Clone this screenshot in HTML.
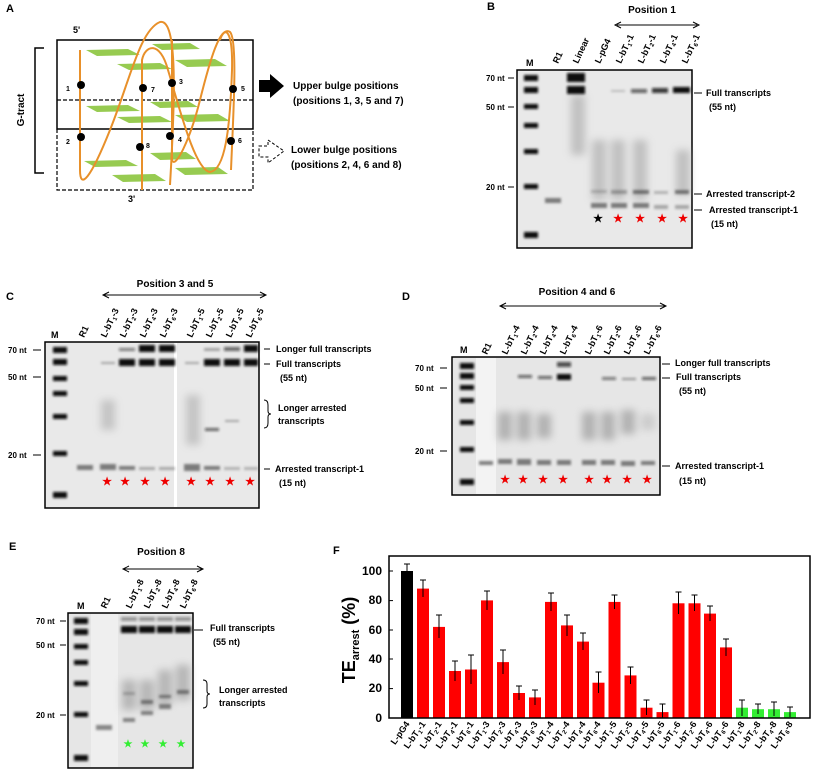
<!DOCTYPE html>
<html><head><meta charset="utf-8"><style>
body{margin:0;background:#fff}
svg{display:block;font-family:"Liberation Sans",Arial,sans-serif;font-weight:bold}
</style></head><body>
<svg width="814" height="772" viewBox="0 0 814 772" xmlns="http://www.w3.org/2000/svg">
<defs>
<filter id="b" x="-50%" y="-200%" width="200%" height="500%"><feGaussianBlur stdDeviation="1.4"/></filter>
<filter id="b2" x="-50%" y="-100%" width="200%" height="300%"><feGaussianBlur stdDeviation="4"/></filter>
</defs>

<!-- Panel A -->
<text x="6" y="12" font-size="11">A</text>
<text x="73" y="33" font-size="9">5'</text>
<text x="128" y="202" font-size="9">3'</text>
<rect x="57" y="40" width="196" height="89" fill="none" stroke="#000" stroke-width="1.5"/>
<line x1="57" y1="100" x2="253" y2="100" stroke="#000" stroke-dasharray="4,2" stroke-width="1.2"/>
<path d="M57 129 V190 H253 V129" fill="none" stroke="#000" stroke-dasharray="4,2" stroke-width="1.2"/>
<path d="M44 48 H35 V173 H44" fill="none" stroke="#000" stroke-width="1.5"/>
<text transform="translate(24,110) rotate(-90)" font-size="10" text-anchor="middle">G-tract</text>
<g fill="#8cc63f" opacity="0.9">
<polygon points="86,50 128,49 140,55 97,56"/><polygon points="117,64 160,63 172,69 129,70"/>
<polygon points="152,44 190,43 200,49 162,50"/><polygon points="175,60 215,59 227,66 187,67"/>
<polygon points="86,106 128,105 140,111 97,112"/><polygon points="117,117 160,116 172,122 129,123"/>
<polygon points="150,102 188,101 198,107 160,108"/><polygon points="175,115 218,114 230,121 187,122"/>
<polygon points="84,161 126,160 138,166 95,167"/><polygon points="112,175 155,174 166,181 123,182"/>
<polygon points="150,153 186,152 196,159 160,160"/><polygon points="175,168 218,167 228,174 185,175"/>
</g>
<g fill="none" stroke="#e8902a" stroke-width="2">
<path d="M80 50 V170 C80 190 90 180 110 130 C130 80 140 30 160 22 C178 18 175 100 170 185"/>
<path d="M142 190 V60 C145 45 160 40 168 70 C180 110 195 170 210 172 C225 170 230 130 232 70 C233 30 225 25 220 40"/>
<path d="M172 40 V160 C175 170 190 140 200 100 C210 60 220 25 230 32 C238 40 233 120 231 170"/>
</g>
<g fill="#000">
<circle cx="81" cy="85" r="4"/><circle cx="143" cy="88" r="4"/><circle cx="172" cy="83" r="4"/><circle cx="233" cy="89" r="4"/>
<circle cx="81" cy="137" r="4"/><circle cx="140" cy="147" r="4"/><circle cx="170" cy="136" r="4"/><circle cx="231" cy="141" r="4"/>
</g>
<g font-size="7">
<text x="66" y="91">1</text><text x="151" y="92">7</text><text x="179" y="84">3</text><text x="241" y="91">5</text>
<text x="66" y="144">2</text><text x="146" y="148">8</text><text x="178" y="142">4</text><text x="238" y="143">6</text>
</g>
<polygon points="259,80 270,80 270,74 284,86 270,98 270,92 259,92" fill="#000"/>
<polygon points="259,146 268,146 268,140 284,151 268,163 268,157 259,157" fill="none" stroke="#000" stroke-dasharray="3,2"/>
<text x="293" y="89" font-size="10">Upper bulge positions</text>
<text x="293" y="104" font-size="10">(positions 1, 3, 5 and 7)</text>
<text x="291" y="153" font-size="10">Lower bulge positions</text>
<text x="291" y="168" font-size="10">(positions 2, 4, 6 and 8)</text>

<!-- Panel B -->
<text x="487" y="10" font-size="11">B</text>
<text x="652" y="13" font-size="10" text-anchor="middle">Position 1</text>
<line x1="617" y1="25" x2="697" y2="25" stroke="#000"/>
<path d="M621 22 L615 25 L621 28 M693 22 L699 25 L693 28" fill="none" stroke="#000"/>
<g font-size="9">
<text x="526" y="66">M</text>
<text transform="translate(558,64) rotate(-65)">R1</text>
<text transform="translate(578,64) rotate(-65)">Linear</text>
<text transform="translate(600,64) rotate(-65)">L-pG4</text>
<text transform="translate(621,64) rotate(-65)">L-bT<tspan font-size="6" dy="2">1</tspan><tspan dy="-2">-1</tspan></text>
<text transform="translate(643,64) rotate(-65)">L-bT<tspan font-size="6" dy="2">2</tspan><tspan dy="-2">-1</tspan></text>
<text transform="translate(665,64) rotate(-65)">L-bT<tspan font-size="6" dy="2">4</tspan><tspan dy="-2">-1</tspan></text>
<text transform="translate(687,64) rotate(-65)">L-bT<tspan font-size="6" dy="2">6</tspan><tspan dy="-2">-1</tspan></text>
</g>
<rect x="517" y="70" width="175" height="178" fill="#e9e9e9" stroke="#000" stroke-width="1.5"/>
<g filter="url(#b2)" fill="#999" opacity="0.5">
<rect x="592" y="140" width="14" height="60"/><rect x="611" y="140" width="14" height="60"/><rect x="633" y="140" width="14" height="60"/><rect x="676" y="150" width="14" height="45"/>
<rect x="571" y="95" width="14" height="60"/>
</g>
<g filter="url(#b)" fill="#111">
<rect x="524" y="75" width="14" height="6"/><rect x="524" y="87" width="14" height="6"/><rect x="524" y="104" width="14" height="5"/><rect x="524" y="123" width="14" height="5"/><rect x="524" y="149" width="14" height="5"/><rect x="524" y="184" width="14" height="5"/><rect x="524" y="232" width="14" height="6"/>
<rect x="567" y="73" width="18" height="9"/><rect x="567" y="86" width="18" height="8"/>
<rect x="631" y="89" width="16" height="4" opacity="0.6"/><rect x="652" y="88" width="16" height="5" opacity="0.8"/><rect x="673" y="87" width="17" height="6"/>
<rect x="611" y="90" width="14" height="2" opacity="0.2"/>
</g>
<g filter="url(#b)" fill="#333" opacity="0.6">
<rect x="545" y="198" width="16" height="5"/><rect x="591" y="203" width="16" height="5"/><rect x="611" y="203" width="16" height="5"/><rect x="633" y="203" width="16" height="5"/><rect x="654" y="205" width="14" height="4" opacity="0.6"/><rect x="675" y="205" width="14" height="4" opacity="0.6"/>
<rect x="591" y="190" width="16" height="3" opacity="0.4"/><rect x="611" y="190" width="16" height="4" opacity="0.6"/><rect x="633" y="190" width="16" height="4"/><rect x="654" y="191" width="14" height="3" opacity="0.5"/><rect x="675" y="190" width="14" height="4"/>
</g>
<g font-size="11" text-anchor="middle"><text x="598" y="222">★</text><text x="618" y="222" fill="#e00">★</text><text x="640" y="222" fill="#e00">★</text><text x="662" y="222" fill="#e00">★</text><text x="683" y="222" fill="#e00">★</text></g>
<g font-size="8"><text x="486" y="81">70 nt</text><text x="486" y="110">50 nt</text><text x="486" y="190">20 nt</text></g>
<g stroke="#000"><line x1="508" y1="78" x2="514" y2="78"/><line x1="508" y1="107" x2="514" y2="107"/><line x1="508" y1="187" x2="514" y2="187"/>
<line x1="694" y1="93" x2="702" y2="93"/><line x1="694" y1="194" x2="702" y2="194"/><line x1="694" y1="210" x2="702" y2="210"/></g>
<g font-size="9"><text x="706" y="96">Full transcripts</text><text x="709" y="110">(55 nt)</text><text x="706" y="197">Arrested transcript-2</text><text x="709" y="213">Arrested transcript-1</text><text x="711" y="227">(15 nt)</text></g>

<!-- Panel C -->
<text x="6" y="300" font-size="11">C</text>
<text x="175" y="287" font-size="10" text-anchor="middle">Position 3 and 5</text>
<line x1="104" y1="295" x2="265" y2="295" stroke="#000"/>
<path d="M109 292 L103 295 L109 298 M260 292 L266 295 L260 298" fill="none" stroke="#000"/>
<g font-size="9">
<text x="51" y="338">M</text>
<text transform="translate(84,338) rotate(-65)">R1</text>
<text transform="translate(106,338) rotate(-65)">L-bT<tspan font-size="6" dy="2">1</tspan><tspan dy="-2">-3</tspan></text>
<text transform="translate(125,338) rotate(-65)">L-bT<tspan font-size="6" dy="2">2</tspan><tspan dy="-2">-3</tspan></text>
<text transform="translate(145,338) rotate(-65)">L-bT<tspan font-size="6" dy="2">4</tspan><tspan dy="-2">-3</tspan></text>
<text transform="translate(165,338) rotate(-65)">L-bT<tspan font-size="6" dy="2">6</tspan><tspan dy="-2">-3</tspan></text>
<text transform="translate(192,338) rotate(-65)">L-bT<tspan font-size="6" dy="2">1</tspan><tspan dy="-2">-5</tspan></text>
<text transform="translate(211,338) rotate(-65)">L-bT<tspan font-size="6" dy="2">2</tspan><tspan dy="-2">-5</tspan></text>
<text transform="translate(231,338) rotate(-65)">L-bT<tspan font-size="6" dy="2">4</tspan><tspan dy="-2">-5</tspan></text>
<text transform="translate(251,338) rotate(-65)">L-bT<tspan font-size="6" dy="2">6</tspan><tspan dy="-2">-5</tspan></text>
</g>
<rect x="45" y="342" width="214" height="166" fill="#e9e9e9" stroke="#000" stroke-width="1.5"/>
<rect x="174" y="343" width="3" height="164" fill="#fff"/>
<g filter="url(#b2)" fill="#999" opacity="0.45">
<rect x="101" y="400" width="14" height="30"/><rect x="186" y="395" width="14" height="50"/>
</g>
<g filter="url(#b)" fill="#111">
<rect x="53" y="347" width="14" height="6"/><rect x="53" y="359" width="14" height="6"/><rect x="53" y="376" width="14" height="5"/><rect x="53" y="391" width="14" height="5"/><rect x="53" y="414" width="14" height="5"/><rect x="53" y="451" width="14" height="5"/><rect x="53" y="492" width="14" height="6"/>
<rect x="119" y="359" width="16" height="7"/><rect x="139" y="359" width="16" height="7"/><rect x="159" y="359" width="16" height="7"/>
<rect x="139" y="345" width="16" height="7"/><rect x="159" y="345" width="16" height="7"/><rect x="119" y="348" width="16" height="3" opacity="0.5"/>
<rect x="204" y="359" width="16" height="7"/><rect x="224" y="359" width="16" height="7"/><rect x="244" y="359" width="14" height="7"/>
<rect x="224" y="347" width="16" height="4" opacity="0.6"/><rect x="244" y="345" width="14" height="7"/><rect x="204" y="348" width="16" height="3" opacity="0.3"/>
<rect x="101" y="362" width="14" height="2" opacity="0.3"/><rect x="185" y="362" width="14" height="2" opacity="0.3"/>
<rect x="205" y="428" width="14" height="3" opacity="0.6"/><rect x="225" y="420" width="14" height="2" opacity="0.3"/>
</g>
<g filter="url(#b)" fill="#333" opacity="0.6">
<rect x="77" y="465" width="16" height="5"/><rect x="100" y="464" width="16" height="6"/><rect x="119" y="466" width="16" height="4"/><rect x="139" y="467" width="16" height="3" opacity="0.6"/><rect x="159" y="467" width="16" height="3" opacity="0.6"/>
<rect x="184" y="464" width="16" height="7"/><rect x="204" y="466" width="16" height="4"/><rect x="224" y="467" width="16" height="3" opacity="0.5"/><rect x="244" y="467" width="14" height="3" opacity="0.5"/>
</g>
<g font-size="11" text-anchor="middle" fill="#e00"><text x="107" y="485">★</text><text x="125" y="485">★</text><text x="145" y="485">★</text><text x="165" y="485">★</text><text x="191" y="485">★</text><text x="210" y="485">★</text><text x="230" y="485">★</text><text x="250" y="485">★</text></g>
<g font-size="8"><text x="8" y="353">70 nt</text><text x="8" y="380">50 nt</text><text x="8" y="458">20 nt</text></g>
<g stroke="#000"><line x1="33" y1="350" x2="41" y2="350"/><line x1="33" y1="377" x2="41" y2="377"/><line x1="33" y1="455" x2="41" y2="455"/>
<line x1="264" y1="349" x2="270" y2="349"/><line x1="264" y1="364" x2="270" y2="364"/><line x1="264" y1="469" x2="270" y2="469"/></g>
<path d="M264 400 Q268 400 268 405 V411 Q268 414 271 414 Q268 414 268 417 V423 Q268 428 264 428" fill="none" stroke="#000"/>
<g font-size="9"><text x="276" y="352">Longer full transcripts</text><text x="276" y="367">Full transcripts</text><text x="280" y="381">(55 nt)</text><text x="278" y="411">Longer arrested</text><text x="278" y="424">transcripts</text><text x="275" y="472">Arrested transcript-1</text><text x="279" y="486">(15 nt)</text></g>

<!-- Panel D -->
<text x="402" y="300" font-size="11">D</text>
<text x="577" y="295" font-size="10" text-anchor="middle">Position 4 and 6</text>
<line x1="501" y1="306" x2="665" y2="306" stroke="#000"/>
<path d="M506 303 L500 306 L506 309 M660 303 L666 306 L660 309" fill="none" stroke="#000"/>
<g font-size="9">
<text x="460" y="353">M</text>
<text transform="translate(487,355) rotate(-65)">R1</text>
<text transform="translate(507,355) rotate(-65)">L-bT<tspan font-size="6" dy="2">1</tspan><tspan dy="-2">-4</tspan></text>
<text transform="translate(526,355) rotate(-65)">L-bT<tspan font-size="6" dy="2">2</tspan><tspan dy="-2">-4</tspan></text>
<text transform="translate(545,355) rotate(-65)">L-bT<tspan font-size="6" dy="2">4</tspan><tspan dy="-2">-4</tspan></text>
<text transform="translate(565,355) rotate(-65)">L-bT<tspan font-size="6" dy="2">6</tspan><tspan dy="-2">-4</tspan></text>
<text transform="translate(590,355) rotate(-65)">L-bT<tspan font-size="6" dy="2">1</tspan><tspan dy="-2">-6</tspan></text>
<text transform="translate(609,355) rotate(-65)">L-bT<tspan font-size="6" dy="2">2</tspan><tspan dy="-2">-6</tspan></text>
<text transform="translate(629,355) rotate(-65)">L-bT<tspan font-size="6" dy="2">4</tspan><tspan dy="-2">-6</tspan></text>
<text transform="translate(649,355) rotate(-65)">L-bT<tspan font-size="6" dy="2">6</tspan><tspan dy="-2">-6</tspan></text>
</g>
<rect x="452" y="357" width="208" height="138" fill="#e6e6e6" stroke="#000" stroke-width="1.5"/>
<rect x="476" y="358" width="20" height="136" fill="#f3f3f3"/>
<g filter="url(#b2)" fill="#888" opacity="0.55">
<rect x="498" y="412" width="14" height="28"/><rect x="517" y="412" width="14" height="28"/><rect x="537" y="414" width="14" height="24"/><rect x="582" y="412" width="14" height="28"/><rect x="601" y="412" width="14" height="28"/><rect x="621" y="410" width="14" height="24"/><rect x="641" y="414" width="14" height="16" opacity="0.5"/>
</g>
<g filter="url(#b)" fill="#111">
<rect x="460" y="363" width="14" height="6"/><rect x="460" y="373" width="14" height="6"/><rect x="460" y="385" width="14" height="5"/><rect x="460" y="398" width="14" height="5"/><rect x="460" y="420" width="14" height="5"/><rect x="460" y="447" width="14" height="5"/><rect x="460" y="479" width="14" height="6"/>
<rect x="557" y="374" width="14" height="6"/><rect x="557" y="362" width="14" height="5" opacity="0.7"/>
<rect x="518" y="375" width="14" height="3" opacity="0.6"/><rect x="538" y="376" width="14" height="3" opacity="0.6"/><rect x="602" y="377" width="14" height="3" opacity="0.5"/><rect x="622" y="378" width="14" height="2" opacity="0.4"/><rect x="642" y="377" width="14" height="3" opacity="0.6"/>
</g>
<g filter="url(#b)" fill="#333" opacity="0.6">
<rect x="479" y="461" width="14" height="4"/><rect x="498" y="459" width="14" height="5"/><rect x="517" y="459" width="14" height="6"/><rect x="537" y="460" width="14" height="5"/><rect x="557" y="460" width="14" height="5"/><rect x="582" y="460" width="14" height="5"/><rect x="601" y="460" width="14" height="5"/><rect x="621" y="461" width="14" height="5"/><rect x="641" y="461" width="14" height="4"/>
</g>
<g font-size="11" text-anchor="middle" fill="#e00"><text x="505" y="483">★</text><text x="523" y="483">★</text><text x="543" y="483">★</text><text x="563" y="483">★</text><text x="589" y="483">★</text><text x="607" y="483">★</text><text x="627" y="483">★</text><text x="647" y="483">★</text></g>
<g font-size="8"><text x="415" y="371">70 nt</text><text x="415" y="391">50 nt</text><text x="415" y="454">20 nt</text></g>
<g stroke="#000"><line x1="440" y1="368" x2="447" y2="368"/><line x1="440" y1="388" x2="447" y2="388"/><line x1="440" y1="451" x2="447" y2="451"/>
<line x1="662" y1="364" x2="670" y2="364"/><line x1="662" y1="378" x2="670" y2="378"/><line x1="662" y1="466" x2="670" y2="466"/></g>
<g font-size="9"><text x="675" y="366">Longer full transcripts</text><text x="676" y="380">Full transcripts</text><text x="679" y="394">(55 nt)</text><text x="675" y="469">Arrested transcript-1</text><text x="679" y="484">(15 nt)</text></g>

<!-- Panel E -->
<text x="9" y="550" font-size="11">E</text>
<text x="161" y="555" font-size="10" text-anchor="middle">Position 8</text>
<line x1="124" y1="569" x2="202" y2="569" stroke="#000"/>
<path d="M129 566 L123 569 L129 572 M197 566 L203 569 L197 572" fill="none" stroke="#000"/>
<g font-size="9">
<text x="77" y="609">M</text>
<text transform="translate(106,609) rotate(-65)">R1</text>
<text transform="translate(131,609) rotate(-65)">L-bT<tspan font-size="6" dy="2">1</tspan><tspan dy="-2">-8</tspan></text>
<text transform="translate(149,609) rotate(-65)">L-bT<tspan font-size="6" dy="2">2</tspan><tspan dy="-2">-8</tspan></text>
<text transform="translate(167,609) rotate(-65)">L-bT<tspan font-size="6" dy="2">4</tspan><tspan dy="-2">-8</tspan></text>
<text transform="translate(185,609) rotate(-65)">L-bT<tspan font-size="6" dy="2">6</tspan><tspan dy="-2">-8</tspan></text>
</g>
<rect x="68" y="613" width="125" height="155" fill="#e6e6e6" stroke="#000" stroke-width="1.5"/>
<rect x="91" y="614" width="27" height="153" fill="#efefef"/>
<g filter="url(#b2)" fill="#888" opacity="0.5">
<rect x="122" y="680" width="14" height="30"/><rect x="140" y="680" width="14" height="30"/><rect x="158" y="670" width="14" height="35"/><rect x="176" y="665" width="14" height="35"/>
</g>
<g filter="url(#b)" fill="#111">
<rect x="74" y="618" width="14" height="6"/><rect x="74" y="629" width="14" height="6"/><rect x="74" y="644" width="14" height="5"/><rect x="74" y="660" width="14" height="5"/><rect x="74" y="681" width="14" height="5"/><rect x="74" y="712" width="14" height="5"/><rect x="74" y="755" width="14" height="6"/>
<rect x="121" y="626" width="16" height="7"/><rect x="139" y="626" width="16" height="7"/><rect x="157" y="626" width="16" height="7"/><rect x="175" y="626" width="16" height="7"/>
<rect x="121" y="617" width="16" height="4" opacity="0.4"/><rect x="139" y="617" width="16" height="4" opacity="0.4"/><rect x="157" y="617" width="16" height="4" opacity="0.4"/><rect x="175" y="617" width="16" height="4" opacity="0.4"/>
</g>
<g filter="url(#b)" fill="#333" opacity="0.55">
<rect x="96" y="725" width="16" height="5"/><rect x="123" y="718" width="12" height="4"/><rect x="141" y="711" width="12" height="4"/><rect x="141" y="700" width="12" height="4"/><rect x="159" y="704" width="12" height="5"/><rect x="159" y="695" width="12" height="3"/><rect x="177" y="690" width="12" height="4"/><rect x="123" y="692" width="12" height="3" opacity="0.5"/>
</g>
<g font-size="10" text-anchor="middle" fill="#3e3"><text x="128" y="747">★</text><text x="145" y="747">★</text><text x="163" y="747">★</text><text x="181" y="747">★</text></g>
<g font-size="8"><text x="36" y="624">70 nt</text><text x="36" y="648">50 nt</text><text x="36" y="718">20 nt</text></g>
<g stroke="#000"><line x1="60" y1="621" x2="66" y2="621"/><line x1="60" y1="645" x2="66" y2="645"/><line x1="60" y1="715" x2="66" y2="715"/><line x1="194" y1="630" x2="203" y2="630"/></g>
<path d="M203 680 Q207 680 207 684 V691 Q207 694 210 694 Q207 694 207 697 V704 Q207 708 203 708" fill="none" stroke="#000"/>
<g font-size="9"><text x="210" y="631">Full transcripts</text><text x="213" y="645">(55 nt)</text><text x="219" y="693">Longer arrested</text><text x="219" y="706">transcripts</text></g>

<!-- Panel F -->
<text x="333" y="554" font-size="11">F</text>
<g font-size="12" text-anchor="end">
<text x="382" y="575">100</text><text x="382" y="604">80</text><text x="382" y="634">60</text><text x="382" y="663">40</text><text x="382" y="692">20</text><text x="382" y="722">0</text>
</g>
<text transform="translate(355,640) rotate(-90)" font-size="18" text-anchor="middle">TE<tspan font-size="11" dy="4">arrest</tspan><tspan dy="-4"> (%)</tspan></text>
<g stroke="#000" stroke-width="1">
<line x1="389" y1="571" x2="393" y2="571"/><line x1="389" y1="600.6" x2="393" y2="600.6"/><line x1="389" y1="630" x2="393" y2="630"/><line x1="389" y1="659" x2="393" y2="659"/><line x1="389" y1="688.6" x2="393" y2="688.6"/>
</g>
<g fill="#f00">
<rect x="401" y="571" width="12" height="147" fill="#000"/>
<rect x="417" y="588.6" width="12" height="129.4"/>
<rect x="433" y="626.9" width="12" height="91.1"/>
<rect x="449" y="671" width="12" height="47"/>
<rect x="465" y="669.5" width="12" height="48.5"/>
<rect x="481" y="600.4" width="12" height="117.6"/>
<rect x="497" y="662.1" width="12" height="55.9"/>
<rect x="513" y="693" width="12" height="25"/>
<rect x="529" y="697.4" width="12" height="20.6"/>
<rect x="545" y="601.9" width="12" height="116.1"/>
<rect x="561" y="625.4" width="12" height="92.6"/>
<rect x="577" y="641.6" width="12" height="76.4"/>
<rect x="592.5" y="682.7" width="12" height="35.3"/>
<rect x="608.5" y="601.9" width="12" height="116.1"/>
<rect x="624.5" y="675.4" width="12" height="42.6"/>
<rect x="640.5" y="707.7" width="12" height="10.3"/>
<rect x="656.5" y="712.1" width="12" height="5.9"/>
<rect x="672.5" y="603.3" width="12" height="114.7"/>
<rect x="688.5" y="603.3" width="12" height="114.7"/>
<rect x="704" y="613.6" width="12" height="104.4"/>
<rect x="720" y="647.4" width="12" height="70.6"/>
<rect x="736" y="707.7" width="12" height="10.3" fill="#3e3"/>
<rect x="752" y="709.2" width="12" height="8.8" fill="#3e3"/>
<rect x="768" y="709.2" width="12" height="8.8" fill="#3e3"/>
<rect x="784" y="712.1" width="12" height="5.9" fill="#3e3"/>
</g>
<g stroke="#000" stroke-width="1" fill="none">
<path d="M407 564V578M404 564h6"/><path d="M423 580V597M420 580h6"/><path d="M439 615V638M436 615h6"/><path d="M455 661V681M452 661h6"/><path d="M471 655V684M468 655h6"/>
<path d="M487 591V610M484 591h6"/><path d="M503 650V674M500 650h6"/><path d="M519 686V700M516 686h6"/><path d="M535 690V705M532 690h6"/>
<path d="M551 593V611M548 593h6"/><path d="M567 615V636M564 615h6"/><path d="M583 633V650M580 633h6"/><path d="M598.5 672V693M595.5 672h6"/>
<path d="M614.5 595V609M611.5 595h6"/><path d="M630.5 667V684M627.5 667h6"/><path d="M646.5 700V715M643.5 700h6"/><path d="M662.5 704V718M659.5 704h6"/>
<path d="M678.5 592V614M675.5 592h6"/><path d="M694.5 595V611M691.5 595h6"/><path d="M710 606V621M707 606h6"/><path d="M726 639V656M723 639h6"/>
<path d="M742 700V716M739 700h6"/><path d="M758 704V714M755 704h6"/><path d="M774 702V716M771 702h6"/><path d="M790 707V717M787 707h6"/>
</g>
<rect x="389" y="556" width="421" height="162" fill="none" stroke="#000" stroke-width="1.5"/>
<g font-size="9" text-anchor="end">
<text transform="translate(410,724) rotate(-55)">L-pG4</text>
<text transform="translate(426,724) rotate(-55)">L-bT<tspan font-size="6" dy="2">1</tspan><tspan dy="-2">-1</tspan></text>
<text transform="translate(442,724) rotate(-55)">L-bT<tspan font-size="6" dy="2">2</tspan><tspan dy="-2">-1</tspan></text>
<text transform="translate(458,724) rotate(-55)">L-bT<tspan font-size="6" dy="2">4</tspan><tspan dy="-2">-1</tspan></text>
<text transform="translate(474,724) rotate(-55)">L-bT<tspan font-size="6" dy="2">6</tspan><tspan dy="-2">-1</tspan></text>
<text transform="translate(490,724) rotate(-55)">L-bT<tspan font-size="6" dy="2">1</tspan><tspan dy="-2">-3</tspan></text>
<text transform="translate(506,724) rotate(-55)">L-bT<tspan font-size="6" dy="2">2</tspan><tspan dy="-2">-3</tspan></text>
<text transform="translate(522,724) rotate(-55)">L-bT<tspan font-size="6" dy="2">4</tspan><tspan dy="-2">-3</tspan></text>
<text transform="translate(538,724) rotate(-55)">L-bT<tspan font-size="6" dy="2">6</tspan><tspan dy="-2">-3</tspan></text>
<text transform="translate(554,724) rotate(-55)">L-bT<tspan font-size="6" dy="2">1</tspan><tspan dy="-2">-4</tspan></text>
<text transform="translate(570,724) rotate(-55)">L-bT<tspan font-size="6" dy="2">2</tspan><tspan dy="-2">-4</tspan></text>
<text transform="translate(586,724) rotate(-55)">L-bT<tspan font-size="6" dy="2">4</tspan><tspan dy="-2">-4</tspan></text>
<text transform="translate(601,724) rotate(-55)">L-bT<tspan font-size="6" dy="2">6</tspan><tspan dy="-2">-4</tspan></text>
<text transform="translate(617,724) rotate(-55)">L-bT<tspan font-size="6" dy="2">1</tspan><tspan dy="-2">-5</tspan></text>
<text transform="translate(633,724) rotate(-55)">L-bT<tspan font-size="6" dy="2">2</tspan><tspan dy="-2">-5</tspan></text>
<text transform="translate(649,724) rotate(-55)">L-bT<tspan font-size="6" dy="2">4</tspan><tspan dy="-2">-5</tspan></text>
<text transform="translate(665,724) rotate(-55)">L-bT<tspan font-size="6" dy="2">6</tspan><tspan dy="-2">-5</tspan></text>
<text transform="translate(681,724) rotate(-55)">L-bT<tspan font-size="6" dy="2">1</tspan><tspan dy="-2">-6</tspan></text>
<text transform="translate(697,724) rotate(-55)">L-bT<tspan font-size="6" dy="2">2</tspan><tspan dy="-2">-6</tspan></text>
<text transform="translate(713,724) rotate(-55)">L-bT<tspan font-size="6" dy="2">4</tspan><tspan dy="-2">-6</tspan></text>
<text transform="translate(729,724) rotate(-55)">L-bT<tspan font-size="6" dy="2">6</tspan><tspan dy="-2">-6</tspan></text>
<text transform="translate(745,724) rotate(-55)">L-bT<tspan font-size="6" dy="2">1</tspan><tspan dy="-2">-8</tspan></text>
<text transform="translate(761,724) rotate(-55)">L-bT<tspan font-size="6" dy="2">2</tspan><tspan dy="-2">-8</tspan></text>
<text transform="translate(777,724) rotate(-55)">L-bT<tspan font-size="6" dy="2">4</tspan><tspan dy="-2">-8</tspan></text>
<text transform="translate(793,724) rotate(-55)">L-bT<tspan font-size="6" dy="2">6</tspan><tspan dy="-2">-8</tspan></text>
</g>
</svg>
</body></html>
